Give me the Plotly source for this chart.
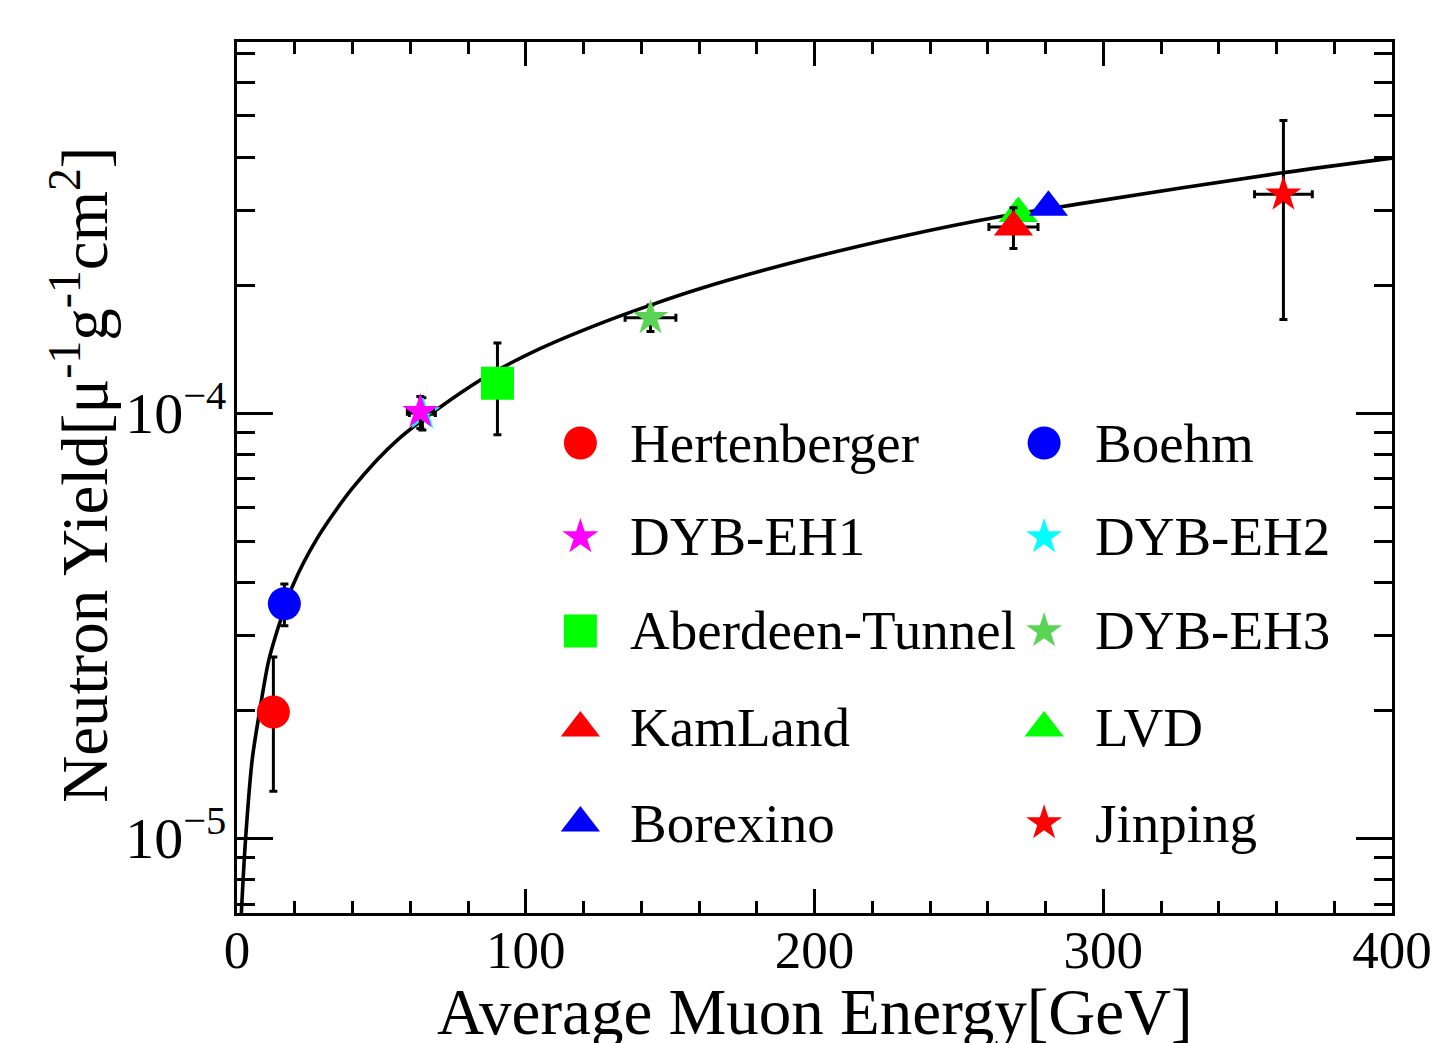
import plotly.graph_objects as go

# ---------------- data ----------------
names = ["Hertenberger", "Boehm", "DYB-EH1", "DYB-EH2", "Aberdeen-Tunnel",
         "DYB-EH3", "KamLand", "LVD", "Borexino", "Jinping"]
energy = [12.6, 16.4, 63.5, 64.2, 90.2, 143.2, 268.9, 270.6, 281.0, 362.4]
energy_err = [0, 0, 4.5, 4.5, 0, 8.8, 8.5, 0, 0, 10.0]
yield_vals = [1.98e-5, 3.56e-5, 1.007e-4, 1.0e-4, 1.175e-4, 1.675e-4,
              2.74e-4, 2.95e-4, 3.05e-4, 3.27e-4]
yield_err = [0.69e-5, 0.40e-5, 0.087e-4, 0.087e-4, 0.286e-4, 0.12e-4,
             0.30e-4, 0, 0, 1.61e-4]

# fitted curve, points
curve_energy = [1.4, 1.56, 2.94, 5.26, 7.79, 11.0, 15.1, 19.1, 27.2, 39.9, 56.0,
                84.3, 105.1, 125.9, 143.2, 160.5, 195.1, 229.8, 264.4, 292.2,
                361.4, 400.0]
curve_yield = [6.4e-6, 6.77e-6, 9.89e-6, 1.53e-5, 1.98e-5, 2.62e-5, 3.26e-5,
               3.90e-5, 5.00e-5, 6.65e-5, 8.70e-5, 1.196e-4, 1.419e-4, 1.626e-4,
               1.795e-4, 1.964e-4, 2.285e-4, 2.60e-4, 2.90e-4, 3.11e-4, 3.67e-4,
               3.98e-4]

x_tick_vals = [0, 100, 200, 300, 400]
x_minor_vals = [v for v in range(20, 400, 20) if v % 100 != 0]
y_tick_vals = [1e-5, 1e-4]
y_tick_text = ["10<sup>\u22125</sup>", "10<sup>\u22124</sup>"]
y_minor_vals = [7e-6, 8e-6, 9e-6, 2e-5, 3e-5, 4e-5, 5e-5, 6e-5, 7e-5, 8e-5,
                9e-5, 2e-4, 3e-4, 4e-4, 5e-4, 6e-4, 7e-4]

# ---------------- styles ----------------
symbols = ["circle", "circle", "star", "star", "square", "star",
           "triangle-up", "triangle-up", "triangle-up", "star"]
colors = ["#FF0000", "#0000FF", "#FF00FF", "#00FFFF", "#00FF00", "#59D454",
          "#FF0000", "#00FF00", "#0000FF", "#FF0000"]
sizes = [33, 33, 27, 27, 33, 27, 34, 34, 34, 27]
draw_order = [0, 1, 3, 2, 4, 5, 7, 6, 8, 9]

FONT = "Liberation Serif, Times New Roman, serif"

fig = go.Figure()

fig.add_trace(go.Scatter(
    x=curve_energy, y=curve_yield, mode="lines",
    line=dict(color="black", width=3.6, shape="spline", smoothing=0.8),
    showlegend=False, hoverinfo="skip"))

for i in draw_order:
    fig.add_trace(go.Scatter(
        x=[energy[i]], y=[yield_vals[i]], mode="markers", name=names[i],
        marker=dict(symbol=symbols[i], color=colors[i], size=sizes[i],
                    line=dict(width=0)),
        error_x=dict(type="data", array=[energy_err[i]], visible=energy_err[i] > 0,
                     color="black", thickness=3, width=4),
        error_y=dict(type="data", array=[yield_err[i]], visible=yield_err[i] > 0,
                     color="black", thickness=3, width=4),
        showlegend=False, cliponaxis=False))

# ---------------- manual legend (2 columns x 5 rows) ----------------
legend_marker_x = [0.2973, 0.6988]
legend_text_x = [0.3388, 0.7412]
legend_row_y = [0.5396, 0.4317, 0.3238, 0.2124, 0.1033]
annotations = []
for k, nm in enumerate(names):
    r, c = divmod(k, 2)
    fig.add_trace(go.Scatter(
        x=[legend_marker_x[c]], y=[legend_row_y[r]], mode="markers",
        marker=dict(symbol=symbols[k], color=colors[k], size=sizes[k],
                    line=dict(width=0)),
        xaxis="x2", yaxis="y2", showlegend=False, hoverinfo="skip",
        cliponaxis=False))
    annotations.append(dict(
        text=nm, x=legend_text_x[c], y=legend_row_y[r], xref="paper", yref="paper",
        xanchor="left", yanchor="middle", showarrow=False,
        font=dict(family=FONT, size=55, color="black")))

annotations.append(dict(
    text="Average Muon Energy[GeV]", x=0.5, y=-0.1137, xref="paper", yref="paper",
    xanchor="center", yanchor="middle", showarrow=False,
    font=dict(family=FONT, size=65, color="black")))
annotations.append(dict(
    text="Neutron Yield[\u03bc<sup>-1</sup>g<sup>-1</sup>cm<sup>2</sup>]",
    x=-0.136, y=0.503, xref="paper", yref="paper", textangle=-90,
    xanchor="center", yanchor="middle", showarrow=False,
    font=dict(family=FONT, size=65, color="black")))

axis_common = dict(showline=True, linewidth=3, linecolor="black", mirror="ticks",
                   ticks="inside", tickwidth=3, tickcolor="black", showgrid=False,
                   zeroline=False, automargin=False)

fig.update_layout(
    width=1451, height=1043,
    margin=dict(l=237, r=59, t=42, b=130),
    plot_bgcolor="white", paper_bgcolor="white",
    showlegend=False,
    xaxis=dict(range=[0, 400], tickmode="array", tickvals=x_tick_vals, ticklen=24,
               ticklabelstandoff=-12,
               tickfont=dict(family=FONT, size=53, color="black"),
               minor=dict(tickmode="array", tickvals=x_minor_vals, ticks="inside",
                          ticklen=12, tickwidth=3, tickcolor="black", showgrid=False),
               **axis_common),
    yaxis=dict(type="log", range=[-5.176, -3.127], tickmode="array",
               tickvals=y_tick_vals, ticktext=y_tick_text, ticklen=36,
               ticklabelstandoff=-4,
               tickfont=dict(family=FONT, size=58, color="black"),
               minor=dict(tickmode="array", tickvals=y_minor_vals, ticks="inside",
                          ticklen=18, tickwidth=3, tickcolor="black", showgrid=False),
               **axis_common),
    xaxis2=dict(range=[0, 1], overlaying="x", visible=False, fixedrange=True),
    yaxis2=dict(range=[0, 1], overlaying="y", visible=False, fixedrange=True),
    annotations=annotations,
)

fig.write_html("out.html", config={"displayModeBar": False},
               post_script="document.body.style.margin='0';document.body.style.overflow='hidden';")
